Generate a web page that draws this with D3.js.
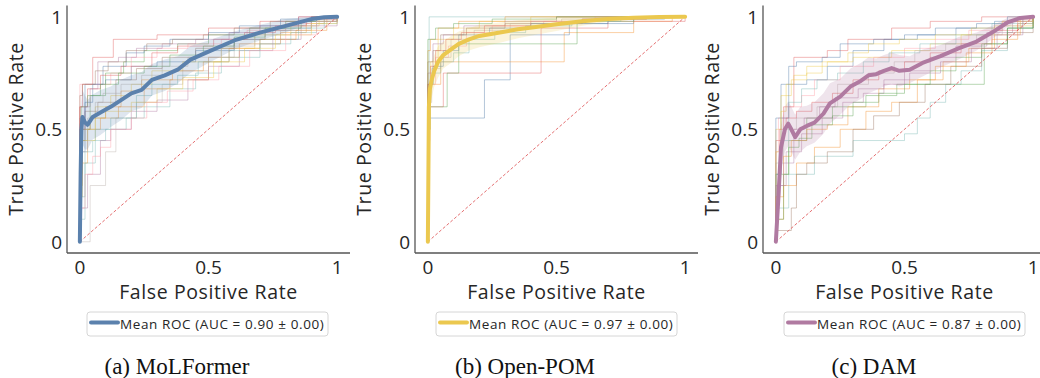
<!DOCTYPE html>
<html>
<head>
<meta charset="utf-8">
<script src="https://cdn.jsdelivr.net/npm/d3@7"></script>
<style>
  body { margin: 0; background: #fff; }
  svg { display: block; }
  .tick-label, .axis-label, .legend-text { font-family: "Open Sans", Lato, sans-serif; fill: #262626; }
  .axis-label, .legend-text { letter-spacing: 0.6px; }
  .caption { font-family: "Liberation Serif", "DejaVu Serif", serif; fill: #111; }
</style>
</head>
<body>
<svg id="roc" width="1040" height="378"></svg>
<script>
// ---- data ----
const panelNames = ['(a) MoLFormer', '(b) Open-POM', '(c) DAM'];
const aucLabels = ['Mean ROC (AUC = 0.90 ± 0.00)', 'Mean ROC (AUC = 0.97 ± 0.00)', 'Mean ROC (AUC = 0.87 ± 0.00)'];
const meanColors = ['#5b81ad', '#ebc84f', '#b07aa1'];
const foldColors = ['#4e79a7', '#f28e2b', '#e15759', '#76b7b2', '#59a14f', '#edc948', '#b07aa1', '#ff9da7', '#9c755f', '#bab0ac'];
const xTicks = [0, 0.5, 1];
const yTicks = [0, 0.5, 1];

// mean ROC curves [fpr, tpr] and their std
const molMean = [[0,0],[0.003,0.3],[0.006,0.5],[0.01,0.555],[0.02,0.53],[0.03,0.52],[0.05,0.555],[0.08,0.575],[0.12,0.6],[0.16,0.63],[0.2,0.66],[0.24,0.675],[0.28,0.72],[0.33,0.74],[0.38,0.765],[0.43,0.81],[0.5,0.845],[0.6,0.895],[0.7,0.93],[0.8,0.96],[0.9,0.99],[0.95,0.998],[1,1]];
const molStd = [0,0.1,0.12,0.12,0.12,0.11,0.1,0.1,0.09,0.09,0.08,0.08,0.07,0.07,0.06,0.06,0.05,0.04,0.035,0.03,0.015,0.005,0];
const pomMean = [[0,0],[0.002,0.3],[0.004,0.6],[0.008,0.68],[0.015,0.72],[0.025,0.76],[0.04,0.8],[0.06,0.83],[0.09,0.855],[0.12,0.88],[0.16,0.9],[0.2,0.915],[0.28,0.93],[0.35,0.945],[0.42,0.955],[0.5,0.967],[0.6,0.98],[0.7,0.99],[0.8,0.996],[0.9,0.999],[1,1]];
const pomStd = [0,0.05,0.08,0.08,0.08,0.07,0.07,0.06,0.06,0.055,0.05,0.05,0.045,0.04,0.035,0.03,0.02,0.012,0.006,0.003,0];
const damMean = [[0,0],[0.01,0.2],[0.02,0.42],[0.035,0.5],[0.048,0.525],[0.06,0.5],[0.075,0.465],[0.095,0.5],[0.12,0.515],[0.15,0.53],[0.185,0.57],[0.21,0.615],[0.25,0.645],[0.29,0.69],[0.33,0.715],[0.36,0.74],[0.39,0.745],[0.42,0.76],[0.45,0.772],[0.48,0.76],[0.52,0.765],[0.57,0.795],[0.64,0.825],[0.71,0.86],[0.78,0.89],[0.84,0.93],[0.9,0.975],[0.95,0.995],[1,1]];
const damStd = [0,0.08,0.1,0.1,0.1,0.1,0.1,0.1,0.09,0.09,0.09,0.09,0.08,0.08,0.08,0.08,0.07,0.07,0.07,0.07,0.06,0.06,0.05,0.05,0.04,0.03,0.02,0.01,0];

// per-fold step curves: each point is the top of a vertical jump
const molFolds = [
  [[0,0.55],[0.02,0.7],[0.1,0.72],[0.2,0.78],[0.3,0.8],[0.45,0.85],[0.6,0.9],[0.75,0.95],[0.9,1],[1,1]],
  [[0,0.35],[0.03,0.5],[0.08,0.55],[0.15,0.6],[0.25,0.68],[0.35,0.72],[0.5,0.82],[0.62,0.88],[0.78,0.93],[0.88,0.97],[0.95,1],[1,1]],
  [[0,0.6],[0.01,0.7],[0.05,0.82],[0.13,0.9],[0.3,0.92],[0.5,0.95],[0.7,0.98],[0.85,1],[1,1]],
  [[0,0.2],[0.02,0.4],[0.05,0.45],[0.1,0.5],[0.18,0.55],[0.25,0.6],[0.35,0.68],[0.45,0.75],[0.55,0.82],[0.7,0.9],[0.85,0.95],[0.95,1],[1,1]],
  [[0,0.5],[0.04,0.65],[0.1,0.75],[0.17,0.8],[0.25,0.85],[0.38,0.88],[0.5,0.92],[0.66,0.95],[0.8,0.98],[0.92,1],[1,1]],
  [[0,0.3],[0.01,0.45],[0.06,0.6],[0.12,0.65],[0.2,0.7],[0.28,0.76],[0.4,0.8],[0.55,0.86],[0.68,0.92],[0.82,0.96],[0.93,1],[1,1]],
  [[0,0.15],[0.03,0.3],[0.08,0.45],[0.12,0.5],[0.2,0.58],[0.3,0.63],[0.42,0.72],[0.5,0.78],[0.62,0.85],[0.75,0.9],[0.86,0.96],[1,1]],
  [[0,0.7],[0.12,0.75],[0.2,0.82],[0.3,0.86],[0.42,0.88],[0.55,0.9],[0.65,0.94],[0.8,0.97],[0.9,1],[1,1]],
  [[0,0.45],[0.02,0.58],[0.07,0.62],[0.14,0.72],[0.22,0.77],[0.32,0.82],[0.45,0.86],[0.6,0.9],[0.72,0.94],[0.85,0.98],[1,1]],
  [[0,0],[0.04,0.25],[0.1,0.4],[0.14,0.55],[0.22,0.62],[0.32,0.7],[0.4,0.76],[0.5,0.82],[0.6,0.88],[0.78,0.94],[0.9,0.98],[1,1]],
  [[0,0.4],[0.02,0.62],[0.05,0.7],[0.09,0.78],[0.18,0.84],[0.25,0.87],[0.35,0.9],[0.5,0.93],[0.62,0.96],[0.78,0.99],[1,1]],
  [[0,0.25],[0.01,0.5],[0.04,0.55],[0.1,0.6],[0.16,0.67],[0.24,0.72],[0.36,0.76],[0.48,0.8],[0.58,0.86],[0.7,0.9],[0.84,0.94],[0.96,1],[1,1]],
  [[0,0.6],[0.03,0.68],[0.08,0.74],[0.16,0.78],[0.28,0.84],[0.38,0.87],[0.52,0.9],[0.64,0.93],[0.76,0.96],[0.88,0.99],[1,1]],
  [[0,0.1],[0.02,0.35],[0.06,0.5],[0.12,0.55],[0.22,0.65],[0.28,0.7],[0.38,0.74],[0.46,0.8],[0.58,0.85],[0.7,0.88],[0.82,0.93],[0.92,0.97],[1,1]],
  [[0,0.3],[0.005,0.6],[0.03,0.65],[0.08,0.7],[0.15,0.75],[0.25,0.78],[0.35,0.83],[0.48,0.87],[0.6,0.91],[0.72,0.95],[0.86,0.98],[1,1]],
  [[0,0.2],[0.01,0.45],[0.03,0.5],[0.06,0.55],[0.1,0.58],[0.2,0.62],[0.3,0.68],[0.4,0.73],[0.52,0.8],[0.64,0.86],[0.76,0.92],[0.9,0.97],[1,1]],
  [[0,0.5],[0.02,0.6],[0.04,0.68],[0.07,0.8],[0.15,0.82],[0.22,0.86],[0.32,0.88],[0.45,0.9],[0.58,0.93],[0.7,0.96],[0.85,1],[1,1]],
  [[0,0.15],[0.02,0.3],[0.05,0.38],[0.08,0.42],[0.12,0.5],[0.2,0.55],[0.26,0.62],[0.34,0.67],[0.44,0.72],[0.54,0.78],[0.66,0.85],[0.8,0.92],[0.92,0.98],[1,1]],
  [[0,0.65],[0.01,0.7],[0.06,0.76],[0.11,0.8],[0.18,0.85],[0.26,0.88],[0.36,0.9],[0.48,0.92],[0.6,0.95],[0.74,0.98],[0.9,1],[1,1]],
  [[0,0.4],[0.03,0.55],[0.06,0.62],[0.09,0.66],[0.16,0.7],[0.24,0.74],[0.32,0.78],[0.42,0.82],[0.55,0.87],[0.68,0.92],[0.8,0.96],[0.92,0.99],[1,1]]
];
const pomFolds = [
  [[0,0.55],[0.22,0.72],[0.32,0.92],[0.55,0.97],[0.8,1],[1,1]],
  [[0,0.7],[0.05,0.8],[0.53,0.93],[0.8,0.98],[0.95,1],[1,1]],
  [[0,0.6],[0.06,0.75],[0.44,0.95],[0.7,0.98],[1,1]],
  [[0,0.3],[0.005,1],[1,1]],
  [[0,0.5],[0.01,0.6],[0.075,0.75],[0.12,0.88],[0.58,0.98],[0.8,1],[1,1]],
  [[0,0.65],[0.01,0.8],[0.04,0.9],[0.1,0.95],[0.2,0.98],[0.4,1],[1,1]],
  [[0,0.75],[0.02,0.88],[0.06,0.92],[0.14,0.96],[0.3,0.98],[0.5,1],[1,1]],
  [[0,0.45],[0.008,0.7],[0.03,0.82],[0.08,0.87],[0.15,0.93],[0.25,0.96],[0.45,0.98],[0.65,1],[1,1]],
  [[0,0.8],[0.02,0.85],[0.05,0.92],[0.15,0.95],[0.3,0.97],[0.6,0.99],[0.8,1],[1,1]],
  [[0,0.62],[0.015,0.77],[0.05,0.82],[0.09,0.9],[0.18,0.94],[0.32,0.97],[0.52,0.99],[0.85,1],[1,1]],
  [[0,0.25],[0.004,0.7],[0.02,0.78],[0.06,0.85],[0.12,0.92],[0.24,0.95],[0.4,0.97],[0.7,0.99],[0.92,1],[1,1]],
  [[0,0.85],[0.01,0.9],[0.04,0.95],[0.12,0.98],[0.3,1],[1,1]],
  [[0,0.7],[0.01,0.78],[0.03,0.85],[0.07,0.9],[0.13,0.93],[0.22,0.96],[0.4,0.98],[0.6,0.99],[0.85,1],[1,1]],
  [[0,0.55],[0.006,0.7],[0.02,0.75],[0.05,0.8],[0.1,0.84],[0.16,0.9],[0.26,0.93],[0.38,0.96],[0.56,0.98],[0.75,1],[1,1]],
  [[0,0.9],[0.03,0.95],[0.1,0.97],[0.25,0.99],[0.5,1],[1,1]]
];
const damFolds = [
  [[0,0.3],[0.02,0.7],[0.12,0.72],[0.2,0.78],[0.3,0.85],[0.42,0.9],[0.55,0.92],[0.7,0.95],[0.85,0.98],[1,1]],
  [[0,0.1],[0.03,0.25],[0.08,0.35],[0.15,0.42],[0.25,0.5],[0.35,0.58],[0.45,0.62],[0.55,0.72],[0.65,0.8],[0.75,0.86],[0.85,0.92],[0.95,1],[1,1]],
  [[0,0.45],[0.03,0.6],[0.07,0.82],[0.2,0.85],[0.28,0.9],[0.45,0.95],[0.6,0.98],[0.8,1],[1,1]],
  [[0,0.15],[0.05,0.3],[0.15,0.38],[0.3,0.45],[0.5,0.48],[0.55,0.55],[0.6,0.62],[0.66,0.7],[0.72,0.76],[0.8,0.85],[0.9,0.95],[1,1]],
  [[0,0.3],[0.05,0.45],[0.12,0.55],[0.22,0.6],[0.35,0.65],[0.47,0.7],[0.81,0.88],[0.9,0.95],[1,1]],
  [[0,0.5],[0.02,0.65],[0.06,0.72],[0.12,0.75],[0.18,0.8],[0.3,0.82],[0.45,0.85],[0.6,0.88],[0.72,0.92],[0.85,0.96],[1,1]],
  [[0,0.25],[0.04,0.4],[0.1,0.48],[0.18,0.55],[0.26,0.62],[0.34,0.66],[0.42,0.7],[0.5,0.76],[0.6,0.82],[0.7,0.87],[0.82,0.93],[0.92,0.98],[1,1]],
  [[0,0.4],[0.01,0.55],[0.05,0.6],[0.1,0.65],[0.15,0.72],[0.25,0.78],[0.38,0.82],[0.5,0.86],[0.62,0.9],[0.75,0.94],[0.88,0.98],[1,1]],
  [[0,0.05],[0.06,0.15],[0.08,0.3],[0.12,0.35],[0.2,0.4],[0.3,0.5],[0.38,0.56],[0.48,0.62],[0.58,0.7],[0.68,0.78],[0.8,0.86],[0.9,0.93],[1,1]],
  [[0,0.35],[0.03,0.5],[0.08,0.55],[0.16,0.6],[0.24,0.7],[0.36,0.75],[0.46,0.8],[0.54,0.85],[0.66,0.88],[0.78,0.92],[0.88,0.96],[0.96,1],[1,1]],
  [[0,0.55],[0.05,0.78],[0.08,0.8],[0.18,0.82],[0.25,0.88],[0.38,0.9],[0.5,0.92],[0.62,0.95],[0.78,0.97],[0.9,1],[1,1]],
  [[0,0.2],[0.03,0.38],[0.06,0.45],[0.12,0.5],[0.2,0.52],[0.28,0.6],[0.4,0.68],[0.52,0.72],[0.62,0.78],[0.74,0.84],[0.84,0.9],[0.94,0.97],[1,1]],
  [[0,0.2],[0.015,0.5],[0.04,0.55],[0.08,0.58],[0.14,0.62],[0.22,0.66],[0.3,0.72],[0.4,0.76],[0.5,0.8],[0.6,0.84],[0.72,0.88],[0.84,0.94],[0.94,0.99],[1,1]],
  [[0,0.3],[0.02,0.45],[0.05,0.62],[0.1,0.68],[0.16,0.72],[0.24,0.75],[0.34,0.8],[0.44,0.84],[0.56,0.88],[0.7,0.92],[0.84,0.97],[1,1]],
  [[0,0.1],[0.03,0.3],[0.05,0.42],[0.09,0.46],[0.14,0.52],[0.22,0.56],[0.3,0.62],[0.4,0.66],[0.5,0.7],[0.6,0.76],[0.7,0.82],[0.8,0.88],[0.9,0.95],[1,1]],
  [[0,0.4],[0.02,0.58],[0.04,0.7],[0.07,0.74],[0.12,0.78],[0.2,0.8],[0.28,0.84],[0.36,0.88],[0.48,0.9],[0.62,0.92],[0.76,0.95],[0.88,0.98],[1,1]],
  [[0,0.25],[0.03,0.35],[0.07,0.5],[0.11,0.55],[0.17,0.6],[0.23,0.64],[0.32,0.68],[0.42,0.72],[0.52,0.75],[0.64,0.8],[0.76,0.86],[0.86,0.92],[0.96,1],[1,1]]
];

const means = [molMean, pomMean, damMean];
const stds = [molStd, pomStd, damStd];
const folds = [molFolds, pomFolds, damFolds];

// ---- layout ----
const svg = d3.select('#roc');
const spineLeft = [67, 415, 763];
const plotW = 283;
const plotTop = 5.6;
const plotBottom = 253;
const legendX = [87, 436, 784];
const captionX = [177, 525, 874];

panelNames.forEach((name, p) => {
  const x = d3.scaleLinear().domain([-0.05, 1.05]).range([spineLeft[p], spineLeft[p] + plotW]);
  const y = d3.scaleLinear().domain([-0.05, 1.05]).range([plotBottom, plotTop]);
  const g = svg.append('g');

  // fold curves
  const stepLine = d3.line().x((d) => x(d[0])).y((d) => y(d[1])).curve(d3.curveStepAfter);
  g.append('g')
    .selectAll('path')
    .data(folds[p])
    .enter()
    .append('path')
    .attr('d', (d) => stepLine([[0, 0]].concat(d)))
    .attr('fill', 'none')
    .attr('stroke', (d, i) => foldColors[i % foldColors.length])
    .attr('stroke-width', 1)
    .attr('stroke-opacity', 0.42);

  // chance line
  g.append('line')
    .attr('x1', x(0)).attr('y1', y(0))
    .attr('x2', x(1)).attr('y2', y(1))
    .attr('stroke', '#e15759')
    .attr('stroke-width', 1)
    .attr('stroke-dasharray', '3,2')
    .attr('opacity', 0.85);

  // std band
  const band = d3.area()
    .x((d) => x(d[0]))
    .y0((d, i) => y(Math.max(0, d[1] - stds[p][i])))
    .y1((d, i) => y(Math.min(1, d[1] + stds[p][i])));
  g.append('path')
    .attr('d', band(means[p]))
    .attr('fill', meanColors[p])
    .attr('fill-opacity', 0.2);

  // mean curve
  const meanLine = d3.line().x((d) => x(d[0])).y((d) => y(d[1]));
  g.append('path')
    .attr('d', meanLine(means[p]))
    .attr('fill', 'none')
    .attr('stroke', meanColors[p])
    .attr('stroke-width', 4)
    .attr('stroke-linejoin', 'round')
    .attr('stroke-linecap', 'round');

  // spines
  g.append('line')
    .attr('x1', spineLeft[p]).attr('x2', spineLeft[p])
    .attr('y1', plotTop).attr('y2', plotBottom)
    .attr('stroke', '#555').attr('stroke-width', 1.3);
  g.append('line')
    .attr('x1', spineLeft[p]).attr('x2', spineLeft[p] + plotW)
    .attr('y1', plotBottom).attr('y2', plotBottom)
    .attr('stroke', '#555').attr('stroke-width', 1.3);

  // tick labels
  g.selectAll('.xt')
    .data(xTicks)
    .enter()
    .append('text')
    .attr('class', 'tick-label')
    .attr('x', (d) => x(d))
    .attr('y', 274)
    .attr('text-anchor', 'middle')
    .attr('font-size', 19)
    .text((d) => d);
  g.selectAll('.yt')
    .data(yTicks)
    .enter()
    .append('text')
    .attr('class', 'tick-label')
    .attr('x', spineLeft[p] - 5)
    .attr('y', (d) => y(d) + 7)
    .attr('text-anchor', 'end')
    .attr('font-size', 19)
    .text((d) => d);

  // axis labels
  g.append('text')
    .attr('class', 'axis-label')
    .attr('x', x(0.5))
    .attr('y', 299)
    .attr('text-anchor', 'middle')
    .attr('font-size', 19.5)
    .text('False Positive Rate');
  g.append('text')
    .attr('class', 'axis-label')
    .attr('transform', `translate(${spineLeft[p] - 44}, 129) rotate(-90)`)
    .attr('text-anchor', 'middle')
    .attr('font-size', 19.5)
    .text('True Positive Rate');

  // legend
  const lg = g.append('g').attr('transform', `translate(${legendX[p]}, 312)`);
  lg.append('rect')
    .attr('width', 241).attr('height', 24)
    .attr('rx', 3)
    .attr('fill', '#fff')
    .attr('stroke', '#d6d6d6');
  lg.append('line')
    .attr('x1', 4).attr('x2', 31)
    .attr('y1', 10.5).attr('y2', 10.5)
    .attr('stroke', meanColors[p])
    .attr('stroke-width', 4)
    .attr('stroke-linecap', 'round');
  lg.append('text')
    .attr('class', 'legend-text')
    .attr('x', 33)
    .attr('y', 16.5)
    .attr('font-size', 13.5)
    .text(aucLabels[p]);

  // caption
  g.append('text')
    .attr('class', 'caption')
    .attr('x', captionX[p])
    .attr('y', 374)
    .attr('text-anchor', 'middle')
    .attr('font-size', 23)
    .text(name);
});
</script>
</body>
</html>
